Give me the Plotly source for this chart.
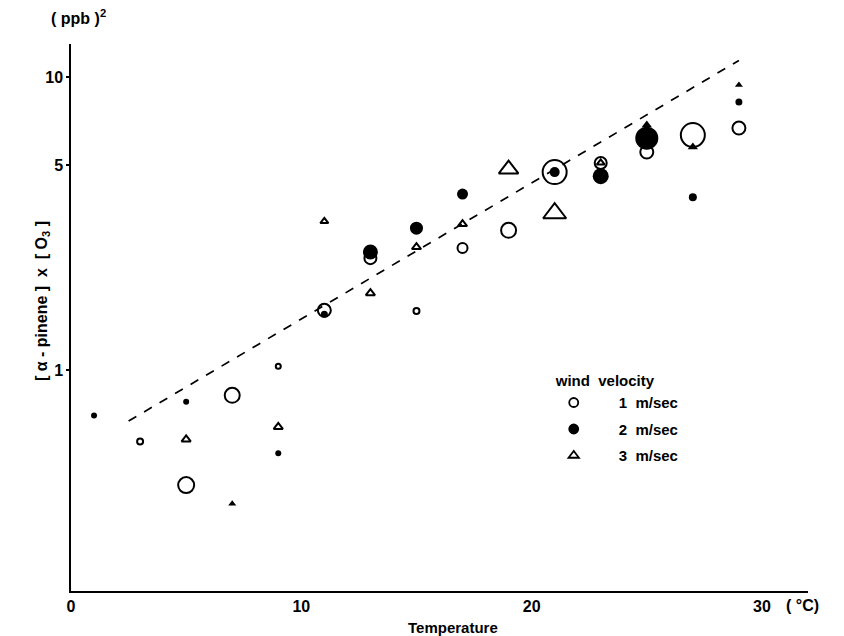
import plotly.graph_objects as go

# ---- data ----
# 1 m/sec : open circles
x_open = [3, 5, 7, 9, 11, 13, 15, 17, 19, 21, 23, 25, 27, 29]
y_open = [0.57, 0.405, 0.82, 1.03, 1.60, 2.41, 1.59, 2.61, 3.0, 4.74, 5.09, 5.55, 6.34, 6.70]
s_open = [6, 16, 15, 5, 13, 12, 6, 10, 15, 24, 12, 13, 24, 13]

# 2 m/sec : filled circles
x_fill = [1, 5, 9, 11, 13, 15, 17, 21, 23, 25, 27, 29]
y_fill = [0.70, 0.78, 0.52, 1.55, 2.53, 3.05, 3.99, 4.74, 4.59, 6.19, 3.89, 8.22]
s_fill = [6, 6, 6, 7, 15, 13, 11, 10, 16, 23, 8, 7]

# 3 m/sec : open triangles
x_tri = [5, 9, 11, 13, 15, 17, 19, 21, 23]
y_tri = [0.58, 0.64, 3.22, 1.83, 2.63, 3.15, 4.85, 3.43, 5.1]
s_tri = [8, 8, 7, 8, 8, 8, 17, 20, 7]

# small filled triangles
x_tri_f = [7, 25, 27, 29]
y_tri_f = [0.35, 6.86, 5.77, 9.39]
s_tri_f = [7, 9, 9, 7]

# regression line (dashed)
line_x = [2.5, 29]
line_y = [0.67, 11.4]

x_ticks = [0, 10, 20, 30]
y_ticks = [1, 5, 10]

FONT = "Liberation Sans"

fig = go.Figure()

fig.add_trace(go.Scatter(x=line_x, y=line_y, mode="lines",
                         line=dict(color="black", width=1.7, dash="9px,9px"),
                         showlegend=False, hoverinfo="skip"))

fig.add_trace(go.Scatter(x=x_open, y=y_open, mode="markers", showlegend=False,
                         marker=dict(symbol="circle-open", size=s_open, color="black", opacity=1,
                                     line=dict(width=2, color="black"))))
fig.add_trace(go.Scatter(x=x_tri, y=y_tri, mode="markers", showlegend=False,
                         marker=dict(symbol="triangle-up-open", size=s_tri, color="black", opacity=1,
                                     line=dict(width=2, color="black"))))
fig.add_trace(go.Scatter(x=x_tri_f, y=y_tri_f, mode="markers", showlegend=False,
                         marker=dict(symbol="triangle-up", size=s_tri_f, color="black", opacity=1,
                                     line=dict(width=0))))
fig.add_trace(go.Scatter(x=x_fill, y=y_fill, mode="markers", showlegend=False,
                         marker=dict(symbol="circle", size=s_fill, color="black", opacity=1,
                                     line=dict(width=0))))

# legend-only entries
leg_names = ["      1  m/sec", "      2  m/sec", "      3  m/sec"]
leg_symbols = ["circle-open", "circle", "triangle-up-open"]
for i, (nm, sym) in enumerate(zip(leg_names, leg_symbols)):
    fig.add_trace(go.Scatter(x=[None], y=[None], mode="markers", name=nm,
                             legendgroup=f"g{i}",
                             marker=dict(symbol=sym, size=9, color="black", opacity=1,
                                         line=dict(width=1.8, color="black"))))

fig.update_layout(
    width=844, height=636,
    margin=dict(l=71, r=36, t=44, b=45),
    paper_bgcolor="white", plot_bgcolor="white",
    font=dict(family=FONT, size=14, color="black"),
    showlegend=True,
    legend=dict(
        title=dict(text="wind  velocity", font=dict(family=FONT, size=15, weight="bold")),
        font=dict(family=FONT, size=15, weight="bold"),
        x=0.655, y=0.41, xanchor="left", yanchor="top",
        bgcolor="rgba(0,0,0,0)", tracegroupgap=4, itemsizing="trace",
    ),
    xaxis=dict(
        range=[0, 32.0], tickvals=x_ticks, ticktext=[str(v) for v in x_ticks],
        showline=True, linecolor="black", linewidth=1.5, showgrid=False, zeroline=False,
        ticks="", tickfont=dict(family=FONT, size=16, weight="bold"),
    ),
    yaxis=dict(
        type="log", range=[-0.754, 1.113], tickvals=y_ticks,
        ticktext=[str(v) for v in y_ticks],
        showline=True, linecolor="black", linewidth=1.5, showgrid=False, zeroline=False,
        ticks="outside", ticklen=3, tickwidth=1.5, tickcolor="black",
        tickfont=dict(family=FONT, size=16, weight="bold"),
    ),
    annotations=[
        dict(text="( ppb )<sup>2</sup>", xref="paper", yref="paper", x=-0.03, y=1.05,
             xanchor="left", yanchor="middle",
             showarrow=False, font=dict(family=FONT, size=16, weight="bold")),
        dict(text="[ α - pinene ]  x  [ O<sub>3</sub> ]", xref="paper", yref="paper",
             x=-0.055, y=0.53, textangle=-90, showarrow=False,
             font=dict(family=FONT, size=16, weight="bold")),
        dict(text="( °C)", xref="paper", yref="paper", x=0.968, y=-0.026,
             xanchor="left", yanchor="middle", showarrow=False,
             font=dict(family=FONT, size=16, weight="bold")),
        dict(text="Temperature", xref="paper", yref="paper", x=0.518, y=-0.066,
             yanchor="middle",
             showarrow=False, font=dict(family=FONT, size=15, weight="bold")),
    ],
)

fig.write_html("out.html")
